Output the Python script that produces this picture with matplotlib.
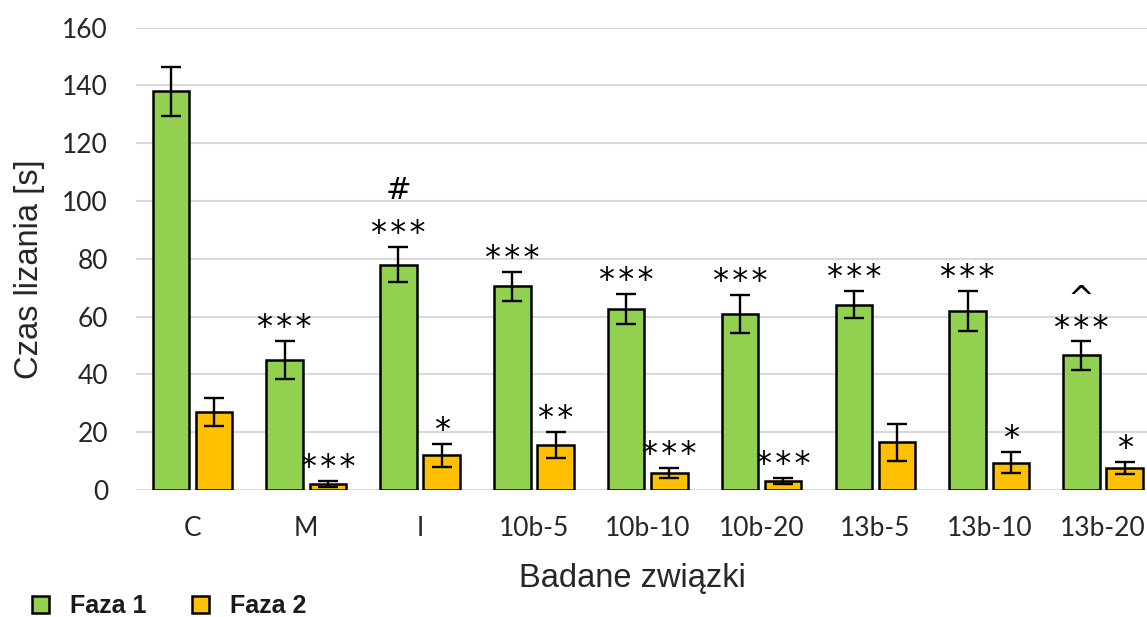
import matplotlib
matplotlib.use("Agg")
import matplotlib.pyplot as plt
import numpy as np

categories = ["C", "M", "I", "10b-5", "10b-10", "10b-20", "13b-5", "13b-10", "13b-20"]
faza1 = [138, 45, 78, 70.5, 62.8, 61, 64.2, 62, 46.7]
faza1_err = [8.5, 6.5, 6, 5, 5.2, 6.6, 4.8, 6.9, 5]
faza2 = [27, 2, 12, 15.5, 5.8, 3.2, 16.5, 9.5, 7.7]
faza2_err = [5, 1, 4, 4.5, 1.7, 1.1, 6.5, 3.5, 2]
faza1_sig = ["", "***", "***", "***", "***", "***", "***", "***", "***"]
faza1_extra = ["", "", "#", "", "", "", "", "", "^"]
faza2_sig = ["", "***", "*", "**", "***", "***", "", "*", "*"]
yticks = [0, 20, 40, 60, 80, 100, 120, 140, 160]

GREEN = "#92D050"
ORANGE = "#FFC000"

W, H = 1147, 617
fig = plt.figure(figsize=(W / 100, H / 100), dpi=100)
ax = fig.add_axes([135.5 / W, (H - 490) / H, (1160 - 135.5) / W, (490 - 27.7) / H])

x = np.arange(len(categories))
bw = 0.32
off = 0.19
ekw = dict(elinewidth=1.7, capthick=1.7, ecolor="black")
ax.bar(x - off, faza1, bw, color=GREEN, edgecolor="black", linewidth=1.8,
       yerr=faza1_err, capsize=7, error_kw=ekw, label="Faza 1", zorder=3)
ax.bar(x + off, faza2, bw, color=ORANGE, edgecolor="black", linewidth=1.8,
       yerr=faza2_err, capsize=7, error_kw=ekw, label="Faza 2", zorder=3)

ax.set_xlim(-0.5, len(categories) - 0.5)
ax.set_ylim(0, 160)
ax.set_yticks(yticks)
ax.set_xticks(x)
ax.set_xticklabels(categories)
ax.yaxis.grid(True, color="#D9D9D9", linewidth=1.5, zorder=0)
ax.set_axisbelow(True)
for s in ax.spines.values():
    s.set_visible(False)
ax.tick_params(axis="both", length=0, labelsize=19, labelcolor="#262626")
ax.tick_params(axis="y", pad=19.8)
ax.tick_params(axis="x", pad=19)
for lab in ax.get_xticklabels() + ax.get_yticklabels():
    lab.set_fontfamily("Lato")

def star_text(s):
    return "\u200a".join(list(s))

STAR = dict(textcoords="offset points", ha="center", va="baseline",
            fontsize=23, family="DejaVu Sans", color="black")
for i in range(len(categories)):
    if faza1_sig[i]:
        top = faza1[i] + faza1_err[i]
        if faza1_extra[i] == "^":
            ax.annotate("^\n" + star_text(faza1_sig[i]), (x[i] - off, top), xytext=(0, -2.2),
                        linespacing=0.85, multialignment="center",
                        textcoords="offset points", ha="center", va="bottom",
                        fontsize=23, family="DejaVu Sans", color="black")
        else:
            ax.annotate(star_text(faza1_sig[i]), (x[i] - off, top), xytext=(0, 3.6), **STAR)
        if faza1_extra[i] == "#":
            ax.annotate("#", (x[i] - off, top), xytext=(0, 35),
                        textcoords="offset points", ha="center", va="baseline",
                        fontsize=22, family="DejaVu Sans", color="black")
    if faza2_sig[i]:
        top = faza2[i] + faza2_err[i]
        ax.annotate(star_text(faza2_sig[i]), (x[i] + off, top), xytext=(0, 3.6), **STAR)

fig.text(30 / W, 1 - 269 / H, "Czas lizania [s]", rotation=90, ha="center", va="center",
         fontsize=23.5, family="Liberation Sans", color="#262626")
fig.text(632 / W, 1 - 578 / H, "Badane związki", ha="center", va="center",
         fontsize=23.5, family="Liberation Sans", color="#262626")

leg = fig.legend(loc="center left", bbox_to_anchor=(32 / W, 1 - 606 / H), ncol=2,
                 frameon=False, borderpad=0, borderaxespad=0,
                 handlelength=0.68, handleheight=0.68, handletextpad=0.84,
                 columnspacing=1.8, prop={"family": "Liberation Sans", "weight": "bold", "size": 18})
for t in leg.get_texts():
    t.set_color("#1a1a1a")

fig.savefig("out.png", dpi=100)
